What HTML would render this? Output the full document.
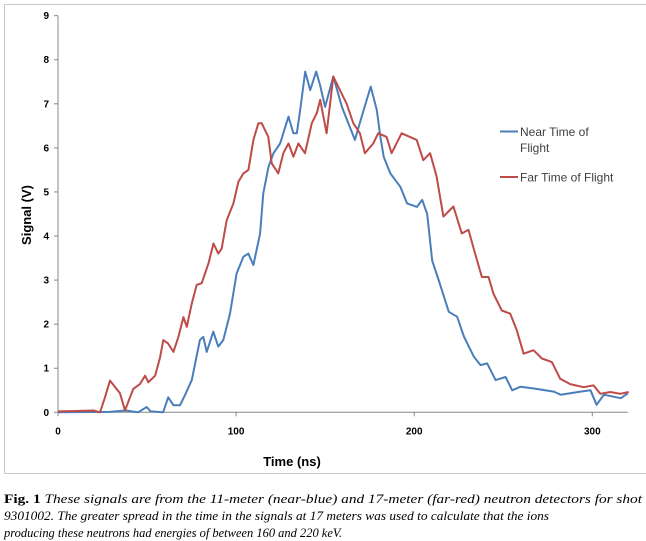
<!DOCTYPE html>
<html><head><meta charset="utf-8"><style>
html,body{margin:0;padding:0;background:#fff;}
svg{display:block;}
.cap{font-family:"Liberation Serif",serif;font-size:13px;fill:#000;}
.it{font-style:italic;}
.lg{font-family:"Liberation Sans",sans-serif;font-size:12px;fill:#404040;}
</style></head><body>
<svg id="chart" width="646" height="541" viewBox="0 0 646 541" xmlns="http://www.w3.org/2000/svg">
<rect x="4.5" y="4.5" width="645" height="469" fill="#fff" stroke="#c8c8c8" stroke-width="1"/>
<g id="axes"></g>
<g id="series"></g>
<text transform="translate(31,215) rotate(-90)" text-anchor="middle" font-family="Liberation Sans, sans-serif" font-weight="bold" font-size="13">Signal (V)</text>
<text x="292" y="466" text-anchor="middle" font-family="Liberation Sans, sans-serif" font-weight="bold" font-size="13">Time (ns)</text>
<g>
<line x1="500" y1="131.5" x2="518" y2="131.5" stroke="#4a7ebb" stroke-width="2"/>
<text class="lg" x="520" y="136">Near Time of</text>
<text class="lg" x="520" y="152">Flight</text>
<line x1="500" y1="177" x2="518" y2="177" stroke="#be4b48" stroke-width="2"/>
<text class="lg" x="520" y="181.5">Far Time of Flight</text>
</g>
<g>
<text class="cap" x="4" y="503" textLength="638" lengthAdjust="spacingAndGlyphs"><tspan font-weight="bold">Fig. 1</tspan><tspan class="it">  These signals are from the 11-meter (near-blue) and 17-meter (far-red) neutron detectors for shot</tspan></text>
<text class="cap it" x="4" y="520" textLength="545" lengthAdjust="spacingAndGlyphs">9301002.  The greater spread in the time in the signals at 17 meters was used to calculate that the ions</text>
<text class="cap it" x="4" y="537" textLength="338" lengthAdjust="spacingAndGlyphs">producing these neutrons had energies of between 160 and 220 keV.</text>
</g>
</svg>
<script>
const xTicks = [0, 100, 200, 300];
const yTicks = [0, 1, 2, 3, 4, 5, 6, 7, 8, 9];
const nearTime = [0,29,38,45,49.8,52,59,61.9,64.8,68.5,71.3,75.1,79.7,81.6,83.5,87.2,90,92.8,96.6,100.3,104.1,106.9,109.7,113.5,115.3,118.2,121,124.7,129.4,132.2,134.1,136,138.8,141.6,145,147.1,150,154.6,159.4,166.7,170.5,175.6,179,181,182.9,186.6,192.2,196,201.6,204.5,207.3,210.1,213.8,219.4,224.1,227.9,233.5,237.2,241,245.7,251.3,255,259.7,267.2,278.4,282.2,293.4,299,302.4,306.5,316,320];
const nearSignal = [0,0.01,0.04,0,0.12,0.02,0,0.34,0.16,0.16,0.39,0.73,1.64,1.71,1.37,1.83,1.49,1.64,2.24,3.15,3.53,3.6,3.34,4.06,4.97,5.57,5.88,6.1,6.71,6.33,6.33,6.86,7.73,7.31,7.73,7.43,6.93,7.62,6.93,6.18,6.71,7.39,6.86,6.25,5.8,5.42,5.12,4.74,4.66,4.82,4.5,3.44,2.99,2.28,2.17,1.72,1.26,1.07,1.11,0.73,0.8,0.5,0.58,0.54,0.47,0.4,0.47,0.5,0.17,0.4,0.32,0.43];
const farTime = [0,10,20,23.6,26.4,29.2,31.9,34.8,37.6,40.4,42.3,46,48.9,50.7,54.5,57.3,59.1,61.9,64.8,67.6,70.4,72.3,75.1,77.9,80.7,84.5,87.3,90,91.9,94.7,98.5,101.3,104.1,106.9,109.7,112.5,114.4,118.1,120,123.7,126.5,129.4,132.2,135,138.7,142.5,145.3,147.2,150.8,154.6,158.3,162,165.8,169.5,172.3,177,179.8,184.5,187.3,192.9,197.6,201.4,205.1,208.9,212.6,216.4,222,226.7,230.5,234.2,238,241.7,244.5,249.2,253.9,257.6,261.4,267,271.7,277.3,282,287.6,295.1,300.7,304.5,310.1,315.7,320.4];
const farSignal = [0.02,0.03,0.04,0,0.34,0.72,0.58,0.43,0.04,0.34,0.53,0.64,0.83,0.68,0.83,1.25,1.64,1.56,1.37,1.71,2.16,1.94,2.47,2.89,2.93,3.38,3.83,3.6,3.72,4.36,4.74,5.23,5.42,5.5,6.18,6.56,6.56,6.25,5.65,5.42,5.88,6.1,5.8,6.1,5.88,6.56,6.79,7.09,6.33,7.62,7.31,7.01,6.56,6.33,5.88,6.1,6.33,6.25,5.88,6.33,6.25,6.18,5.72,5.88,5.35,4.44,4.67,4.06,4.14,3.6,3.07,3.07,2.69,2.31,2.24,1.86,1.33,1.41,1.22,1.14,0.76,0.64,0.57,0.61,0.42,0.46,0.42,0.46];

const NS = 'http://www.w3.org/2000/svg';
const X0 = 58, XS = 1.781, Y0 = 412.3, YS = 44.07;
function xScale(v){ return X0 + v * XS; }
function yScale(v){ return Y0 - v * YS; }
function mk(tag, attrs, parent){ const e = document.createElementNS(NS, tag); for (const k in attrs) e.setAttribute(k, attrs[k]); parent.appendChild(e); return e; }

const axes = document.getElementById('axes');
const yAxis = mk('line', {x1:X0, y1:yScale(9), x2:X0, y2:Y0, stroke:'#888', 'stroke-width':1}, axes);


const xAxis = mk('line', {x1:X0, y1:Y0, x2:xScale(320), y2:Y0, stroke:'#888', 'stroke-width':1}, axes);


yTicks.forEach(t => {
  const tk = mk('line', {x1:X0-4, y1:yScale(t), x2:X0, y2:yScale(t), stroke:'#888'}, axes);
  
  
  const lb = mk('text', {x:X0-9, y:yScale(t)+3.5, 'text-anchor':'end', 'font-family':'Liberation Sans, sans-serif', 'font-size':'10', 'font-weight':'bold'}, axes);
  lb.textContent = t;
  
  
});
xTicks.forEach(t => {
  const tk = mk('line', {x1:xScale(t), y1:Y0, x2:xScale(t), y2:Y0+4, stroke:'#888'}, axes);
  
  
  const lb = mk('text', {x:xScale(t), y:Y0+22, 'text-anchor':'middle', 'font-family':'Liberation Sans, sans-serif', 'font-size':'10', 'font-weight':'bold'}, axes);
  lb.textContent = t;
  
  
});

const series = document.getElementById('series');
function pts(ts, vs){ return ts.map((t,i) => xScale(t).toFixed(1) + ',' + yScale(vs[i]).toFixed(1)).join(' '); }
const near = mk('polyline', {points:pts(nearTime, nearSignal), fill:'none', stroke:'#4a7ebb', 'stroke-width':2, 'stroke-linejoin':'round'}, series);


const far = mk('polyline', {points:pts(farTime, farSignal), fill:'none', stroke:'#be4b48', 'stroke-width':2, 'stroke-linejoin':'round'}, series);


</script>
</body></html>
